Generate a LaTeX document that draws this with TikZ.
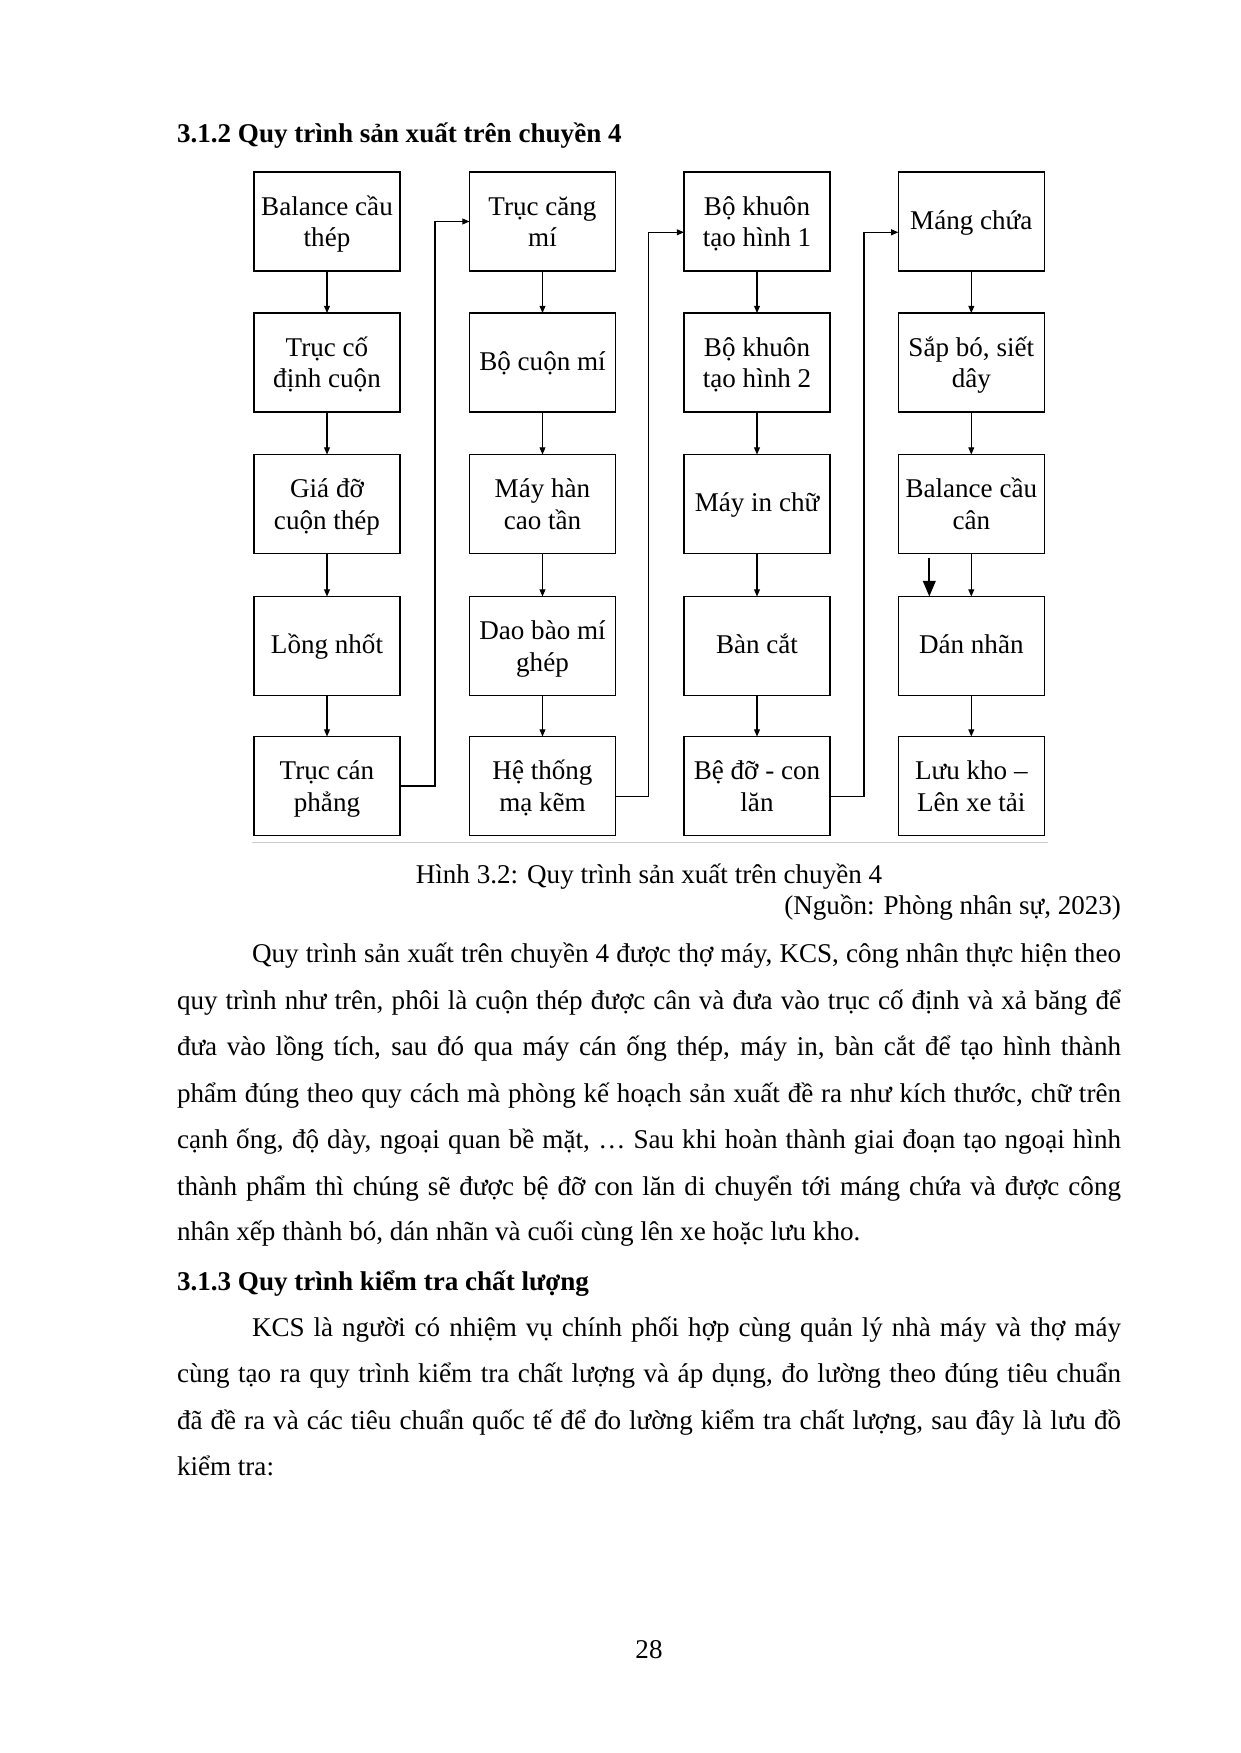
\documentclass[tikz,border=0pt]{standalone}
\usepackage{fontspec}
\setmainfont{Liberation Serif}
\usetikzlibrary{arrows.meta,calc}
\tikzset{
  pbox/.style={draw, line width=0.6pt, minimum width=70.08pt, minimum height=47.52pt, inner sep=0pt, outer sep=0pt},
  btxt/.style={anchor=base, inner sep=0pt, outer sep=0pt, font=\fontsize{13pt}{14.95pt}\selectfont},
  ptxt/.style={anchor=base west, inner sep=0pt, outer sep=0pt, font=\fontsize{13pt}{14.95pt}\selectfont},
  arr/.style={line width=0.5pt, -{Triangle[length=3.4pt,width=2.8pt]}},
  bigarr/.style={line width=1.1pt, -{Triangle[length=7.5pt,width=6pt]}},
  rule/.style={line width=0.7pt, draw=black!20},
}
\newcommand{\twobox}[5]{%
  \node[pbox] (#1) at (#2,#3+49.5) {};
  \node[btxt] (#1a) at (#2,#3+43) {#4};
  \node[btxt] (#1b) at (#2,#3+74.5) {#5};}
\newcommand{\onebox}[4]{%
  \node[pbox] (#1) at (#2,#3+49.5) {};
  \node[btxt] (#1a) at (#2,#3+57) {#4};}
\newcommand{\jline}[3]{\node[ptxt] (#1) at (177,#2) {\hbox to 453.12pt{#3}};}
\newcommand{\iline}[3]{\node[ptxt] (#1) at (177,#2) {\hbox to 453.12pt{\hskip36pt #3}};}
\newcommand{\pline}[3]{\node[ptxt] (#1) at (177,#2) {#3};}
\begin{document}
\begin{tikzpicture}[x=0.48pt, y=-0.48pt]
\useasboundingbox[fill=white] (0,0) rectangle (1241,1753);

% heading
\node[ptxt, font=\fontsize{13pt}{14.95pt}\selectfont\bfseries] (h1) at (177,142.7) {3.1.2 Quy trình sản xuất trên chuyền 4};

% column 1
\twobox{b11}{327}{172}{Balance cầu}{thép}
\twobox{b12}{327}{313}{Trục cố}{định cuộn}
\twobox{b13}{327}{454.5}{Giá đỡ}{cuộn thép}
\onebox{b14}{327}{596.5}{Lồng nhốt}
\twobox{b15}{327}{736.5}{Trục cán}{phẳng}
% column 2
\twobox{b21}{542.5}{172}{Trục căng}{mí}
\onebox{b22}{542.5}{313}{Bộ cuộn mí}
\twobox{b23}{542.5}{454.5}{Máy hàn}{cao tần}
\twobox{b24}{542.5}{596.5}{Dao bào mí}{ghép}
\twobox{b25}{542.5}{736.5}{Hệ thống}{mạ kẽm}
% column 3
\twobox{b31}{757}{172}{Bộ khuôn}{tạo hình 1}
\twobox{b32}{757}{313}{Bộ khuôn}{tạo hình 2}
\onebox{b33}{757}{454.5}{Máy in chữ}
\onebox{b34}{757}{596.5}{Bàn cắt}
\twobox{b35}{757}{736.5}{Bệ đỡ - con}{lăn}
% column 4
\onebox{b41}{971.3}{172}{Máng chứa}
\twobox{b42}{971.3}{313}{Sắp bó, siết}{dây}
\twobox{b43}{971.3}{454.5}{Balance cầu}{cân}
\onebox{b44}{971.3}{596.5}{Dán nhãn}
\twobox{b45}{971.3}{736.5}{Lưu kho –}{Lên xe tải}

% vertical arrows
\foreach \c in {1,2,3,4}{
  \draw[arr] (b\c1.south) -- (b\c2.north);
  \draw[arr] (b\c2.south) -- (b\c3.north);
  \draw[arr] (b\c3.south) -- (b\c4.north);
  \draw[arr] (b\c4.south) -- (b\c5.north);
}
% extra bold arrow
\draw[bigarr] ($(b43.south)+(-42,4)$) -- ($(b44.north)+(-42,0)$);

% column links
\draw[arr] (b15.east) -- ++(35,0) |- (b21.west);
\draw[arr] ($(b25.east)+(0,10.7)$) -- ++(33.3,0) |- ($(b31.west)+(0,10.8)$);
\draw[arr] ($(b35.east)+(0,10.7)$) -- ++(34,0) |- ($(b41.west)+(0,10.8)$);

% figure frame bottom rule
\draw[rule] (251.7,842.7) -- (1047.7,842.7);

% caption
\node[btxt] (cap) at (649,883.3) {Hình 3.2: Quy trình sản xuất trên chuyền 4};
\node[btxt, anchor=base east] (src) at (1121,914.5) {(Nguồn: Phòng nhân sự, 2023)};

% paragraph 1
\iline{p1}{962.7}{Quy trình sản xuất trên chuyền 4 được thợ máy, KCS, công nhân thực hiện theo}
\jline{p2}{1009.3}{quy trình như trên, phôi là cuộn thép được cân và đưa vào trục cố định và xả băng để}
\jline{p3}{1055.7}{đưa vào lồng tích, sau đó qua máy cán ống thép, máy in, bàn cắt để tạo hình thành}
\jline{p4}{1102.3}{phẩm đúng theo quy cách mà phòng kế hoạch sản xuất đề ra như kích thước, chữ trên}
\jline{p5}{1148.3}{cạnh ống, độ dày, ngoại quan bề mặt, …  Sau khi hoàn thành giai đoạn tạo ngoại hình}
\jline{p6}{1195}{thành phẩm thì chúng sẽ được bệ đỡ con lăn di chuyển tới máng chứa và được công}
\pline{p7}{1240.7}{nhân xếp thành bó, dán nhãn và cuối cùng lên xe hoặc lưu kho.}

% heading 2
\node[ptxt, font=\fontsize{13pt}{14.95pt}\selectfont\bfseries] (h2) at (177,1290.7) {3.1.3 Quy trình kiểm tra chất lượng};

% paragraph 2
\iline{q1}{1336}{KCS là người có nhiệm vụ chính phối hợp cùng quản lý nhà máy và thợ máy}
\jline{q2}{1382.7}{cùng tạo ra quy trình kiểm tra chất lượng và áp dụng, đo lường theo đúng tiêu chuẩn}
\jline{q3}{1429}{đã đề ra và các tiêu chuẩn quốc tế để đo lường kiểm tra chất lượng, sau đây là lưu đồ}
\pline{q4}{1475.3}{kiểm tra:}

% page number
\node[btxt] (pg) at (649,1658) {28};
\end{tikzpicture}
\end{document}
